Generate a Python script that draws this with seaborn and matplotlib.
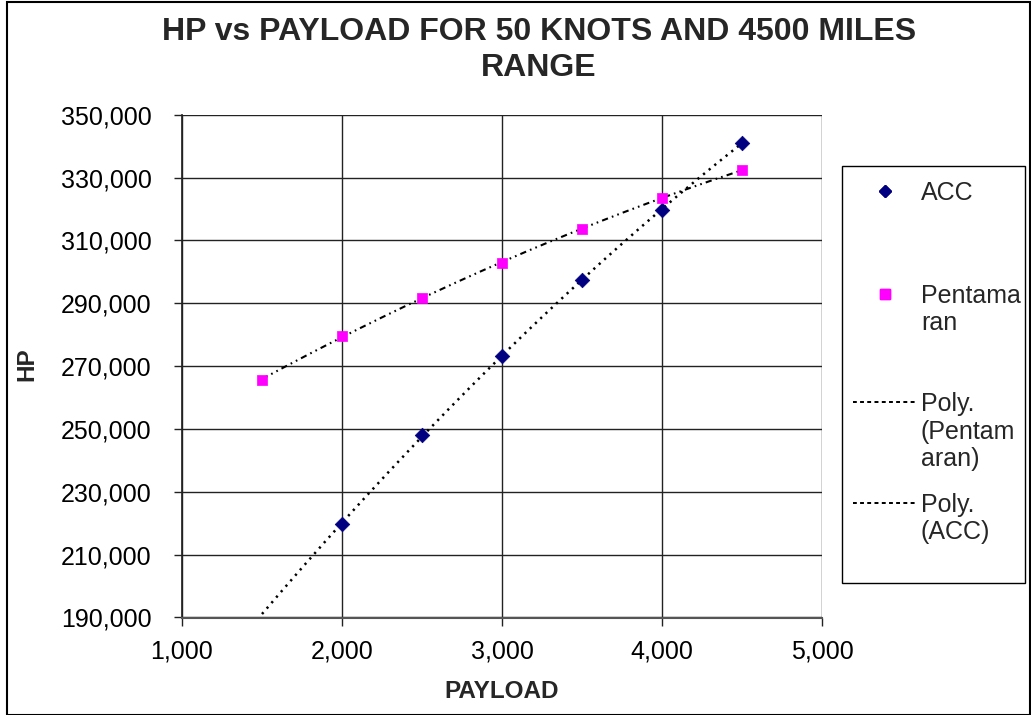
import numpy as np
import pandas as pd
import matplotlib
matplotlib.use("Agg")
import matplotlib.pyplot as plt
from matplotlib.lines import Line2D
from matplotlib.patches import Rectangle
from matplotlib.ticker import FuncFormatter
import seaborn as sns

# ---- data ----
acc_payload = [2000, 2500, 3000, 3500, 4000, 4500]
acc_hp = [219800, 248200, 273200, 297300, 319800, 341100]
pent_payload = [1500, 2000, 2500, 3000, 3500, 4000, 4500]
pent_hp = [265600, 279600, 291800, 302900, 313500, 323600, 332400]
trend_start = 1500
trend_end = 4500
x_ticks = [1000, 2000, 3000, 4000, 5000]
y_ticks = [190000, 210000, 230000, 250000, 270000, 290000, 310000, 330000, 350000]

title = "HP vs PAYLOAD FOR 50 KNOTS AND 4500 MILES\nRANGE"
xlabel = "PAYLOAD"
ylabel = "HP"
legend_labels = ["ACC", "Pentama\nran", "Poly.\n(Pentam\naran)", "Poly.\n(ACC)"]

sns.set_theme(style="white")
plt.rcParams["font.family"] = ["Liberation Sans", "DejaVu Sans"]

W, H = 1031, 715
fig = plt.figure(figsize=(W / 100, H / 100), dpi=100)
ax = fig.add_axes([182 / W, 1 - 617.5 / H, (822 - 182) / W, (617.5 - 114.7) / H])

df_acc = pd.DataFrame({"PAYLOAD": acc_payload, "HP": acc_hp})
df_pent = pd.DataFrame({"PAYLOAD": pent_payload, "HP": pent_hp})

# polynomial (order 2) trendlines
xs = np.linspace(trend_start, trend_end, 300)
pc = np.polyfit(pent_payload, pent_hp, 2)
ac = np.polyfit(acc_payload, acc_hp, 2)
df_tp = pd.DataFrame({"PAYLOAD": xs, "HP": np.polyval(pc, xs)})
df_ta = pd.DataFrame({"PAYLOAD": xs, "HP": np.polyval(ac, xs)})

sns.lineplot(data=df_tp, x="PAYLOAD", y="HP", ax=ax, color="black", lw=1.5,
             linestyle=(0, (3.0, 2.0, 0.8, 2.0, 0.8, 2.0)), zorder=3)
sns.lineplot(data=df_ta, x="PAYLOAD", y="HP", ax=ax, color="black", lw=1.8,
             linestyle=(0, (0.9, 2.0)), zorder=3)

sns.scatterplot(data=df_acc, x="PAYLOAD", y="HP", ax=ax, marker="D", s=55,
                color="#000080", edgecolor="#000080", linewidth=0.5, zorder=4)
sns.scatterplot(data=df_pent, x="PAYLOAD", y="HP", ax=ax, marker="s", s=60,
                color="#FF00FF", edgecolor="#FF00FF", linewidth=0.5, zorder=4)

ax.set_xlim(x_ticks[0], x_ticks[-1])
ax.set_ylim(y_ticks[0], y_ticks[-1])
ax.set_xticks(x_ticks)
ax.set_yticks(y_ticks)
fmt = FuncFormatter(lambda v, p: f"{int(v):,}")
ax.xaxis.set_major_formatter(fmt)
ax.yaxis.set_major_formatter(fmt)
ax.grid(True, color="#222222", lw=1.0)
ax.set_axisbelow(True)
for s in ax.spines.values():
    s.set_visible(False)
ax.spines["left"].set_visible(True)
ax.spines["bottom"].set_visible(True)
ax.spines["left"].set_color("#222222")
ax.spines["bottom"].set_color("#555555")
ax.spines["bottom"].set_linewidth(1.5)
ax.tick_params(axis="both", which="major", direction="out", length=6,
               width=1, color="#222222", labelsize=18, labelcolor="black",
               bottom=True, left=True)
ax.tick_params(axis="y", pad=16)
ax.tick_params(axis="x", pad=10)

pos = ax.get_position()
ax.set_xlabel(xlabel, fontsize=17.5, fontweight="bold")
ax.set_ylabel(ylabel, fontsize=17.5, fontweight="bold")
ax.xaxis.label.set_va("center")
ax.yaxis.label.set_va("center")
ax.xaxis.set_label_coords(0.5, (1 - 691 / H - pos.y0) / pos.height)
ax.yaxis.set_label_coords((27 - 182) / (822 - 182), (1 - 364 / H - pos.y0) / pos.height)

fig.text(539 / W, 1 - 50 / H, title, ha="center", va="center",
         fontsize=23, fontweight="bold", linespacing=1.22)

# legend frame
fig.patches.append(Rectangle((842 / W, 1 - 583 / H), (1025 - 842) / W, (583 - 166) / H,
                             transform=fig.transFigure, fill=False, ec="black", lw=1.0))
# outer chart border
fig.patches.append(Rectangle((7 / W, 0.5 / H), (W - 8.5) / W, (H - 2) / H,
                             transform=fig.transFigure, fill=False, ec="black", lw=1.5))

handles = [
    Line2D([], [], ls="none", marker="D", color="#000080", markersize=6.5),
    Line2D([], [], ls="none", marker="s", color="#FF00FF", markersize=6.5),
    Line2D([], [], ls=(0, (2, 2)), color="black", lw=1.3),
    Line2D([], [], ls=(0, (2, 2)), color="black", lw=1.3),
]
first_line_y = [193, 296, 404, 505]
line_step = 27.5
for h, lab, yc in zip(handles, legend_labels, first_line_y):
    lg = fig.legend([h], [" "], loc="center left", bbox_to_anchor=(853 / W, 1 - yc / H),
                    frameon=False, fontsize=18, handlelength=2.55, handletextpad=0.0,
                    borderpad=0, borderaxespad=0)
    fig.add_artist(lg)
    for i, part in enumerate(lab.split("\n")):
        fig.text(921 / W, 1 - (yc + i * line_step) / H, part, ha="left",
                 va="center", fontsize=18)

fig.savefig("out.png", dpi=100, facecolor="white")
